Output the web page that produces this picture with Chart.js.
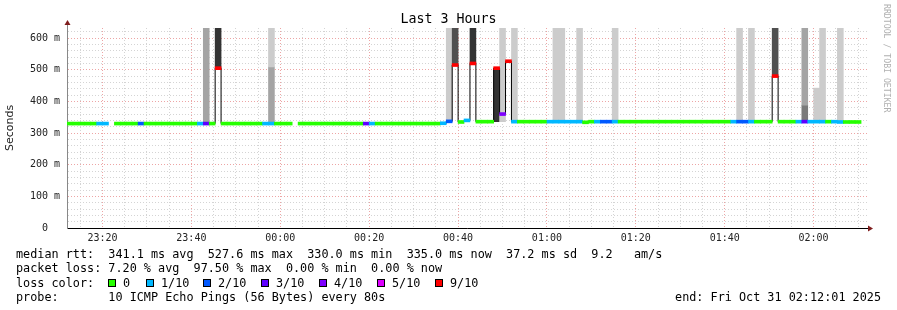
<!DOCTYPE html>
<html>
<head>
<meta charset="utf-8">
<script src="https://cdn.jsdelivr.net/npm/chart.js@4.4.1/dist/chart.umd.min.js"></script>
<style>
  body { margin: 0; background: #fff; }
  #wrap { position: relative; width: 897px; height: 310px; overflow: hidden; font-family: 'DejaVu Sans Mono', monospace; }
  #c { position: absolute; left: 0; top: 0; }
  .txt { position: absolute; white-space: pre; color: #000; font-size: 11.8px; line-height: 14px; }
  .box { position: absolute; top: 279px; width: 6px; height: 6px; border: 1px solid #000; }
  #title { position: absolute; left: 0; width: 897px; top: 11px; text-align: center; font-size: 13.3px; line-height: 16px; color: #000; }
  #rrd { position: absolute; left: 882px; top: 4px; writing-mode: vertical-rl; font-size: 8.2px; color: #b0b0b0; white-space: pre; }
</style>
</head>
<body>
<div id="wrap">
  <canvas id="c" width="897" height="310"></canvas>
  <div id="title">Last 3 Hours</div>
  <div id="rrd">RRDTOOL / TOBI OETIKER</div>
  <div class="txt" style="left:16px;top:247px">median rtt:  341.1 ms avg  527.6 ms max  330.0 ms min  335.0 ms now  37.2 ms sd  9.2   am/s</div>
  <div class="txt" style="left:16px;top:261px">packet loss: 7.20 % avg  97.50 % max  0.00 % min  0.00 % now</div>
  <div class="txt" style="left:16px;top:276px">loss color:</div>
  <div id="legend"></div>
  <div class="txt" style="left:16px;top:290px">probe:       10 ICMP Echo Pings (56 Bytes) every 80s</div>
  <div class="txt" style="right:16px;top:290px">end: Fri Oct 31 02:12:01 2025</div>
</div>
<script>
// 3 hours of 80s steps, starting 23:12:01 (minutes after 23:00)
const STEP_SEC = 80;
const START_MIN = 12 + 1 / 60;
const SPAN_MIN = 180;

// median rtt per step (ms), null = no data
const median = [
  330, 330, 330, 330, 330, 330, 330, null, 330, 330,
  330, 330, 330, 330, 330, 330, 330, 330, 330, 330,
  330, 330, 330, 330, 330, 505, 330, 330, 330, 330,
  330, 330, 330, 330, 330, 330, 330, 330, null, 330,
  330, 330, 330, 330, 330, 330, 330, 330, 330, 330,
  330, 330, 330, 330, 330, 330, 330, 330, 330, 330,
  330, 330, 330, 331, 337, 515, 335, 340, 520, 336,
  336, 336, 505, 360, 527, 336, 336, 336, 336, 336,
  336, 336, 336, 336, 336, 336, 336, 334, 336, 336,
  336, 336, 336, 336, 336, 336, 336, 336, 336, 336,
  336, 336, 336, 336, 336, 336, 336, 336, 336, 336,
  336, 336, 336, 336, 336, 336, 336, 336, 336, 480,
  336, 336, 336, 336, 336, 336, 336, 336, 336, 336,
  335, 335, 335, 335, null
];

// lost pings per step (of 10)
const lossCount = [
  0, 0, 0, 0, 0, 1, 1, 0, 0, 0,
  0, 0, 2, 0, 0, 0, 0, 0, 0, 0,
  0, 0, 1, 3, 0, 9, 0, 0, 0, 0,
  0, 0, 0, 1, 1, 0, 0, 0, 0, 0,
  0, 0, 0, 0, 0, 0, 0, 0, 0, 0,
  3, 1, 0, 0, 0, 0, 0, 0, 0, 0,
  0, 0, 0, 1, 2, 9, 0, 1, 9, 0,
  0, 0, 9, 4, 9, 1, 0, 0, 0, 0,
  0, 1, 1, 1, 1, 1, 1, 0, 0, 1,
  2, 2, 1, 0, 0, 0, 0, 0, 0, 0,
  0, 0, 0, 0, 0, 0, 0, 0, 0, 0,
  0, 0, 1, 2, 2, 1, 0, 0, 0, 9,
  0, 0, 0, 1, 3, 1, 1, 1, 0, 1,
  1, 0, 0, 0, 0
];

// smoke (ping spread) bands: step, low ms, high ms, density 1 (light) .. 5 (dark)
const smokeStep  = [23, 25, 34, 34, 64, 65, 68, 72, 73, 75, 82, 83, 86, 92, 113, 115, 119, 124, 124, 126, 127, 130];
const smokeLow   = [330, 505, 509, 330, 336, 515, 520, 336, 336, 336, 336, 336, 336, 336, 336, 336, 480, 388, 336, 336, 336, 336];
const smokeHigh  = [640, 640, 640, 509, 640, 640, 640, 505, 640, 640, 640, 640, 640, 640, 640, 640, 640, 640, 388, 442, 640, 640];
const smokeShade = [2, 5, 1, 2, 1, 4, 5, 5, 1, 1, 1, 1, 1, 1, 1, 1, 4, 2, 3, 1, 1, 1];

const timeTicks = [20, 40, 60, 80, 100, 120, 140, 160, 180];
const timeLabels = ['23:20', '23:40', '00:00', '00:20', '00:40', '01:00', '01:20', '01:40', '02:00'];
const rttTicks = [0, 100, 200, 300, 400, 500, 600];
const rttLabels = ['0  ', '100 m', '200 m', '300 m', '400 m', '500 m', '600 m'];

const lossNames = ['0', '1/10', '2/10', '3/10', '4/10', '5/10', '9/10'];
const lossLevels = [0, 1, 2, 3, 4, 5, 9];

const LOSS_COLORS = ['#26ff00', '#00b8ff', '#0059ff', '#5e00ff', '#7e00ff', '#dd00ff'];
const lossColor = n => n < LOSS_COLORS.length ? LOSS_COLORS[n] : '#ff0000';
const SHADES = ['#ffffff', '#cccccc', '#a4a4a4', '#7a7a7a', '#505050', '#333333'];
const LINE_HALF = 4.7;

const stepMin = STEP_SEC / 60;
const xAt = k => START_MIN + (k + 0.5) * stepMin;

// legend boxes
const legendX = [108, 146, 203, 261, 319, 377, 435];
const legend = document.getElementById('legend');
lossNames.forEach((name, i) => {
  const b = document.createElement('div');
  b.className = 'box';
  b.style.left = legendX[i] + 'px';
  b.style.background = lossColor(lossLevels[i]);
  legend.appendChild(b);
  const t = document.createElement('div');
  t.className = 'txt';
  t.style.left = (legendX[i] + 15) + 'px';
  t.style.top = '276px';
  t.textContent = name;
  legend.appendChild(t);
});

const medianBars = [];
median.forEach((m, k) => {
  if (m !== null) medianBars.push({x: xAt(k), y: [m - LINE_HALF, m + LINE_HALF], loss: lossCount[k]});
});

const smokeLayers = [];
smokeStep.forEach((k, i) => {
  let layer = smokeLayers.find(l => !l.some(p => p.k === k));
  if (!layer) { layer = []; smokeLayers.push(layer); }
  layer.push({x: xAt(k), y: [smokeLow[i], smokeHigh[i]], k: k, shade: smokeShade[i]});
});

const barOpts = {type: 'bar', grouped: false, barPercentage: 1, categoryPercentage: 1, borderWidth: 0};

const arrows = {
  id: 'arrows',
  afterDraw(chart) {
    const {ctx, chartArea: a} = chart;
    ctx.save();
    ctx.strokeStyle = '#888';
    ctx.beginPath();
    ctx.moveTo(a.left + 0.5, a.top);
    ctx.lineTo(a.left + 0.5, a.top - 4);
    ctx.stroke();
    ctx.strokeStyle = '#000';
    ctx.beginPath();
    ctx.moveTo(a.right, a.bottom + 0.5);
    ctx.lineTo(a.right + 2, a.bottom + 0.5);
    ctx.stroke();
    ctx.fillStyle = '#7f1d1d';
    ctx.beginPath();
    ctx.moveTo(a.left - 2.5, a.top - 3);
    ctx.lineTo(a.left + 3.5, a.top - 3);
    ctx.lineTo(a.left + 0.5, a.top - 8);
    ctx.closePath();
    ctx.fill();
    ctx.beginPath();
    ctx.moveTo(a.right + 1, a.bottom - 2.5);
    ctx.lineTo(a.right + 1, a.bottom + 3.5);
    ctx.lineTo(a.right + 6, a.bottom + 0.5);
    ctx.closePath();
    ctx.fill();
    ctx.restore();
  }
};

new Chart(document.getElementById('c'), {
  type: 'bar',
  data: {
    datasets: [
      Object.assign({}, barOpts, {
        data: medianBars, order: 0,
        backgroundColor: c => c.raw ? lossColor(c.raw.loss) : '#000'
      }),
      {
        type: 'line', order: 1,
        data: median.map((m, k) => ({x: xAt(k), y: m})),
        borderColor: '#000', borderWidth: 1, stepped: 'middle',
        pointRadius: 0, spanGaps: false, fill: false
      },
      ...smokeLayers.map((l, i) => Object.assign({}, barOpts, {
        data: l, order: 2 + i,
        backgroundColor: c => c.raw ? SHADES[c.raw.shade] : '#ccc'
      }))
    ]
  },
  options: {
    responsive: false,
    animation: false,
    devicePixelRatio: 1,
    layout: {padding: {top: 28, right: 30, left: 0, bottom: 0}},
    plugins: {legend: {display: false}, tooltip: {enabled: false}},
    scales: {
      x: {
        type: 'linear',
        offset: false,
        min: START_MIN,
        max: START_MIN + SPAN_MIN,
        afterBuildTicks: s => {
          const t = [];
          for (let v = 15; v < START_MIN + SPAN_MIN; v += 5) t.push({value: v});
          s.ticks = t;
        },
        afterFit: s => { s.height = 82; },
        ticks: {
          autoSkip: false, maxRotation: 0, minRotation: 0, padding: 4,
          color: '#222', font: {family: 'DejaVu Sans Mono', size: 10},
          callback: v => { const i = timeTicks.indexOf(v); return i >= 0 ? timeLabels[i] : ''; }
        },
        grid: {
          drawTicks: false, offset: false,
          color: c => (c.tick && timeTicks.includes(c.tick.value)) ? '#eda5a5' : '#d4d4d4'
        },
        border: {color: '#000', width: 1, dash: [1, 2]}
      },
      y: {
        type: 'linear',
        min: 0,
        max: 632,
        afterBuildTicks: s => {
          const t = [];
          for (let v = 0; v <= 620; v += 20) t.push({value: v});
          s.ticks = t;
        },
        afterFit: s => { s.width = 67; },
        ticks: {
          autoSkip: false, padding: 7,
          color: '#222', font: {family: 'DejaVu Sans Mono', size: 10},
          callback: v => { const i = rttTicks.indexOf(v); return i >= 0 ? rttLabels[i] : ''; }
        },
        grid: {
          drawTicks: false,
          color: c => (c.tick && rttTicks.includes(c.tick.value)) ? '#eda5a5' : '#d4d4d4'
        },
        border: {color: '#888', width: 1, dash: [1, 2]},
        title: {
          display: true, text: 'Seconds', color: '#222',
          font: {family: 'DejaVu Sans', size: 11}, padding: {top: 4, bottom: 0}
        }
      }
    }
  },
  plugins: [arrows]
});
</script>
</body>
</html>
